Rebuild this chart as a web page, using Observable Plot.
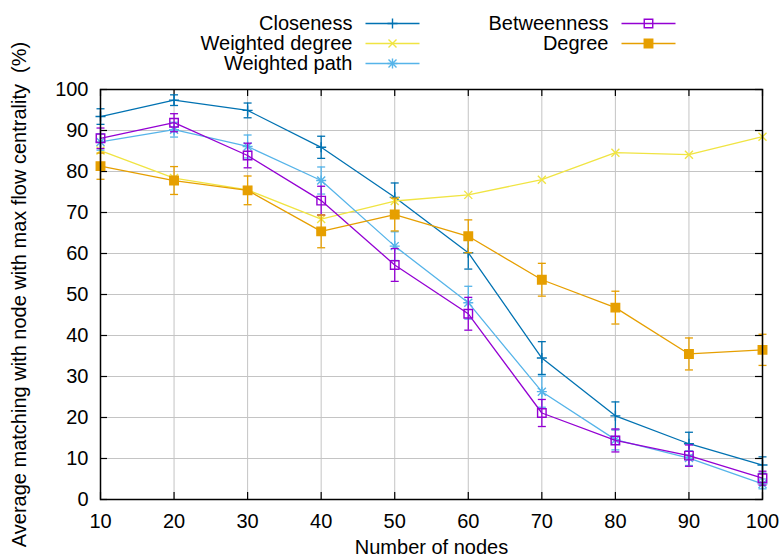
<!DOCTYPE html>
<html><head><meta charset="utf-8">
<script src="https://cdn.jsdelivr.net/npm/d3@7"></script>
<script src="https://cdn.jsdelivr.net/npm/@observablehq/plot@0.6"></script>
<style>
body{margin:0;background:#fff}
#wrap{position:relative;width:782px;height:557px}
#wrap svg{position:absolute;left:0;top:0}
</style>
</head><body><div id="wrap"></div>
<script>
// ---- data ----
const nodes = [10, 20, 30, 40, 50, 60, 70, 80, 90, 100];
const seriesNames = ["Closeness", "Weighted degree", "Weighted path", "Betweenness", "Degree"];
const closeness      = [93.4, 97.4, 94.9, 85.9, 73.7, 60.2, 34.5, 20.4, 13.6, 8.4];
const closenessErr   = [1.9, 1.3, 1.8, 2.7, 3.5, 4.0, 4.0, 3.4, 2.8, 2.0];
const weightedDegree = [85.1, 78.4, 75.5, 68.4, 72.8, 74.3, 78.0, 84.6, 84.1, 88.5];
const weightedPath    = [87.2, 90.2, 86.1, 77.8, 61.8, 48.0, 26.3, 14.6, 10.1, 3.8];
const weightedPathErr = [2.0, 1.8, 2.8, 3.3, 3.5, 4.0, 3.8, 2.5, 1.8, 1.2];
const betweenness    = [88.1, 91.9, 83.9, 72.9, 57.2, 45.3, 21.1, 14.4, 10.7, 5.2];
const betweennessErr = [2.5, 2.2, 3.0, 3.5, 4.0, 4.0, 3.3, 2.8, 2.6, 1.7];
const degree    = [81.3, 77.8, 75.4, 65.4, 69.5, 64.2, 53.6, 46.8, 35.5, 36.5];
const degreeErr = [3.2, 3.4, 3.5, 4.0, 4.0, 4.0, 4.0, 4.0, 3.9, 3.8];
const xTicks = [10, 20, 30, 40, 50, 60, 70, 80, 90, 100];
const yTicks = [0, 10, 20, 30, 40, 50, 60, 70, 80, 90, 100];
const xLabel = "Number of nodes";
const yLabel = "Average matching with node with max flow centrality\u00a0\u00a0(%)";

// ---- styles ----
const colors = ["#0072b2", "#f0e442", "#56b4e9", "#9400d3", "#e69f00"];
const rad = s => Math.sqrt(s / Math.PI);
const symPlus = {draw(c, s){const r = rad(s); c.moveTo(-r,0); c.lineTo(r,0); c.moveTo(0,-r); c.lineTo(0,r);}};
const symTimes = {draw(c, s){const r = rad(s)*0.8; c.moveTo(-r,-r); c.lineTo(r,r); c.moveTo(-r,r); c.lineTo(r,-r);}};
const symStar = {draw(c, s){symPlus.draw(c, s); symTimes.draw(c, s);}};
const symSquare = {draw(c, s){const r = rad(s)*0.85; c.moveTo(-r,-r); c.lineTo(r,-r); c.lineTo(r,r); c.lineTo(-r,r); c.closePath();}};
const symCap = {draw(c, s){const r = rad(s); c.moveTo(-r,0); c.lineTo(r,0);}};

const series = [
  {name: seriesNames[0], y: closeness, e: closenessErr, sym: symPlus, fill: "none"},
  {name: seriesNames[1], y: weightedDegree, e: null, sym: symTimes, fill: "none"},
  {name: seriesNames[2], y: weightedPath, e: weightedPathErr, sym: symStar, fill: "none"},
  {name: seriesNames[3], y: betweenness, e: betweennessErr, sym: symSquare, fill: "none"},
  {name: seriesNames[4], y: degree, e: degreeErr, sym: symSquare, fill: "fill"}
];

const W = 782, H = 557, mL = 100, mR = 20, mT = 89, mB = 58;
const plotW = W - mL - mR, plotH = H - mT - mB;
const font = "'Liberation Sans', Arial, sans-serif";
const fs = "20px";

const colorScale = {domain: seriesNames, range: colors};

const marks = [
  Plot.gridX(xTicks, {stroke: "#c4c4c4", strokeOpacity: 1, strokeWidth: 1}),
  Plot.gridY(yTicks, {stroke: "#c4c4c4", strokeOpacity: 1, strokeWidth: 1}),
  // inward ticks on all four sides
  Plot.tickX(xTicks, {x: d => d, insetTop: plotH - 7, stroke: "#000", strokeWidth: 1.2}),
  Plot.tickX(xTicks, {x: d => d, insetBottom: plotH - 7, stroke: "#000", strokeWidth: 1.2}),
  Plot.tickY(yTicks, {y: d => d, insetRight: plotW - 7, stroke: "#000", strokeWidth: 1.2}),
  Plot.tickY(yTicks, {y: d => d, insetLeft: plotW - 7, stroke: "#000", strokeWidth: 1.2}),
];

for (const s of series) {
  const rows = nodes.map((x, i) => ({series: s.name, x, y: s.y[i], e: s.e ? s.e[i] : 0}));
  marks.push(Plot.line(rows, {x: "x", y: "y", stroke: "series", strokeWidth: 1.3}));
  if (s.e) {
    marks.push(Plot.ruleX(rows, {x: "x", y1: d => d.y - d.e, y2: d => d.y + d.e, stroke: "series", strokeWidth: 1.3}));
    marks.push(Plot.dot(rows, {x: "x", y: d => d.y - d.e, symbol: symCap, r: 4, stroke: "series", strokeWidth: 1.3}));
    marks.push(Plot.dot(rows, {x: "x", y: d => d.y + d.e, symbol: symCap, r: 4, stroke: "series", strokeWidth: 1.3}));
  }
  marks.push(Plot.dot(rows, {x: "x", y: "y", symbol: s.sym, r: 5, stroke: "series",
    fill: s.fill === "fill" ? "series" : "none", strokeWidth: 1.4}));
}

marks.push(
  Plot.frame({stroke: "#000", strokeWidth: 1.5}),
  Plot.axisX({ticks: xTicks, tickSize: 0, tickPadding: 14, label: xLabel, labelAnchor: "center", labelOffset: 54, labelArrow: "none", fill: "#000"}),
  Plot.axisY({ticks: yTicks, tickSize: 0, tickPadding: 12, label: yLabel, labelAnchor: "center", labelOffset: 89, labelArrow: "none", fill: "#000"})
);

const chart = Plot.plot({
  width: W, height: H,
  marginLeft: mL, marginRight: mR, marginTop: mT, marginBottom: mB,
  x: {domain: [10, 100]},
  y: {domain: [0, 100]},
  color: colorScale,
  style: {fontFamily: font, fontSize: fs, color: "#000", background: "transparent"},
  marks
});

// ---- legend (two columns, inside the top margin) ----
const leg = series.map((s, i) => {
  const col = i < 3 ? 0 : 1;
  const row = i < 3 ? i : i - 3;
  const tx = 352 + col * 256;
  return {series: s.name, sym: s.sym, fill: s.fill, tx, x1: tx + 13, x2: tx + 67, xm: tx + 40, y: 23 + row * 20};
});
const legMarks = [
  Plot.link(leg, {x1: "x1", x2: "x2", y1: "y", y2: "y", stroke: "series", strokeWidth: 1.3}),
  Plot.text(leg, {x: "tx", y: "y", text: "series", textAnchor: "end", fill: "#000"})
];
for (const l of leg) {
  legMarks.push(Plot.dot([l], {x: "xm", y: "y", symbol: l.sym, r: 5, stroke: "series",
    fill: l.fill === "fill" ? "series" : "none", strokeWidth: 1.4}));
}
const legend = Plot.plot({
  width: W, height: 80, margin: 0,
  x: {type: "identity", axis: null}, y: {type: "identity", axis: null},
  color: colorScale,
  style: {fontFamily: font, fontSize: fs, color: "#000", background: "transparent"},
  marks: legMarks
});

const wrap = document.getElementById("wrap");
wrap.appendChild(chart);
wrap.appendChild(legend);
</script>
</body></html>
